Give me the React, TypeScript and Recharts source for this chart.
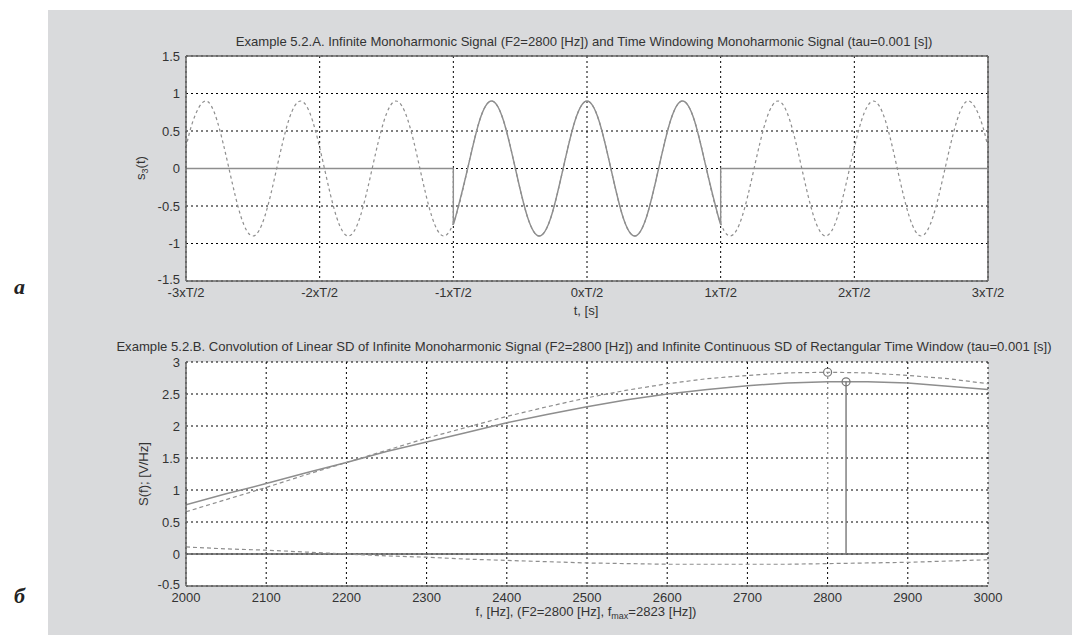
import React from 'react';
import { ComposedChart, Line, XAxis, YAxis, CartesianGrid, ReferenceLine } from 'recharts';

// ---------- Panel A: time signals (t in ms, T = tau = 1 ms) ----------
const tMs = [
  -1.5, -1.4732, -1.4286, -1.3839, -1.3393, -1.2946, -1.25, -1.2054, -1.1607, -1.1161,
  -1.0714, -1.0268, -0.9821, -0.9375, -0.8929, -0.8482, -0.8036, -0.7589, -0.7143, -0.6696,
  -0.625, -0.5804, -0.5357, -0.4911, -0.4464, -0.4018, -0.3571, -0.3125, -0.2679, -0.2232,
  -0.1786, -0.1339, -0.0893, -0.0446, 0, 0.0446, 0.0893, 0.1339, 0.1786, 0.2232,
  0.2679, 0.3125, 0.3571, 0.4018, 0.4464, 0.4911, 0.5357, 0.5804, 0.625, 0.6696,
  0.7143, 0.7589, 0.8036, 0.8482, 0.8929, 0.9375, 0.9821, 1.0268, 1.0714, 1.1161,
  1.1607, 1.2054, 1.25, 1.2946, 1.3393, 1.3839, 1.4286, 1.4732, 1.5,
];
const sInfinite = [
  0.28, 0.64, 0.9, 0.64, 0, -0.64, -0.9, -0.64, 0, 0.64,
  0.9, 0.64, 0, -0.64, -0.9, -0.64, 0, 0.64, 0.9, 0.64,
  0, -0.64, -0.9, -0.64, 0, 0.64, 0.9, 0.64, 0, -0.64,
  -0.9, -0.64, 0, 0.64, 0.9, 0.64, 0, -0.64, -0.9, -0.64,
  0, 0.64, 0.9, 0.64, 0, -0.64, -0.9, -0.64, 0, 0.64,
  0.9, 0.64, 0, -0.64, -0.9, -0.64, 0, 0.64, 0.9, 0.64,
  0, -0.64, -0.9, -0.64, 0, 0.64, 0.9, 0.64, 0.28,
];
const tWindow = [
  -0.5, -0.4911, -0.4464, -0.4018, -0.3571, -0.3125, -0.2679, -0.2232, -0.1786, -0.1339,
  -0.0893, -0.0446, 0, 0.0446, 0.0893, 0.1339, 0.1786, 0.2232, 0.2679, 0.3125,
  0.3571, 0.4018, 0.4464, 0.4911, 0.5,
];
const sWindow = [
  -0.73, -0.64, 0, 0.64, 0.9, 0.64, 0, -0.64, -0.9, -0.64,
  0, 0.64, 0.9, 0.64, 0, -0.64, -0.9, -0.64, 0, 0.64,
  0.9, 0.64, 0, -0.64, -0.73,
];
const tZeroLeft = [-1.5, -0.5, -0.5];
const sZeroLeft = [0, 0, -0.73];
const tZeroRight = [0.5, 0.5, 1.5];
const sZeroRight = [-0.73, 0, 0];
const tTicks = [-1.5, -1, -0.5, 0, 0.5, 1, 1.5];
const tTickLabels = ['-3xT/2', '-2xT/2', '-1xT/2', '0xT/2', '1xT/2', '2xT/2', '3xT/2'];
const sTicks = [-1.5, -1, -0.5, 0, 0.5, 1, 1.5];
const sTickLabels = ['-1.5', '-1', '-0.5', '0', '0.5', '1', '1.5'];

// ---------- Panel B: spectra ----------
const fHz = [2000, 2050, 2100, 2150, 2200, 2250, 2300, 2350, 2400, 2450, 2500,
  2550, 2600, 2650, 2700, 2750, 2800, 2850, 2900, 2950, 3000];
const sdConvolution = [0.77, 0.94, 1.10, 1.27, 1.43, 1.60, 1.75, 1.90, 2.05, 2.18, 2.30,
  2.41, 2.50, 2.57, 2.63, 2.67, 2.69, 2.69, 2.67, 2.62, 2.57];
const sdPositive = [0.66, 0.85, 1.04, 1.24, 1.43, 1.62, 1.81, 1.98, 2.15, 2.30, 2.44,
  2.56, 2.66, 2.74, 2.79, 2.83, 2.84, 2.83, 2.79, 2.74, 2.66];
const sdNegative = [0.11, 0.08, 0.06, 0.03, 0.00, -0.03, -0.05, -0.08, -0.10, -0.12, -0.14,
  -0.15, -0.16, -0.16, -0.16, -0.16, -0.15, -0.14, -0.13, -0.11, -0.09];
const stemMaxF = [2823, 2823];
const stemMaxS = [0, 2.69];
const stemF2F = [2800, 2800];
const stemF2S = [0, 2.84];
const fTicks = [2000, 2100, 2200, 2300, 2400, 2500, 2600, 2700, 2800, 2900, 3000];
const fTickLabels = ['2000', '2100', '2200', '2300', '2400', '2500', '2600', '2700', '2800', '2900', '3000'];
const sdTicks = [-0.5, 0, 0.5, 1, 1.5, 2, 2.5, 3];
const sdTickLabels = ['-0.5', '0', '0.5', '1', '1.5', '2', '2.5', '3'];

const mk = (xs: number[], ys: number[]) => xs.map((x, i) => ({ x, y: ys[i] }));

const FONT = '"Liberation Sans", Arial, Helvetica, sans-serif';
const TXT = '#333';
const LINE = '#8e8e8e';
const AXIS = '#666';

const makeXTick = (ticks: number[], labels: string[]) => (p: any) => {
  const idx = ticks.indexOf(p.payload.value);
  return (
    <text x={p.x} y={p.y} dy={16} textAnchor="middle" fontSize={13} fill={TXT} fontFamily={FONT}>
      {labels[idx]}
    </text>
  );
};
const makeYTick = (ticks: number[], labels: string[]) => (p: any) => {
  const idx = ticks.indexOf(p.payload.value);
  return (
    <text x={p.x} y={p.y} dy={idx === 0 ? 2.5 : 4.5} textAnchor="end" fontSize={13} fill={TXT} fontFamily={FONT}>
      {labels[idx]}
    </text>
  );
};

const stemDot = (p: any) => {
  if (p.index === 1) {
    return <circle key={`sd-${p.cx}-${p.index}`} cx={p.cx} cy={p.cy} r={4} fill="none" stroke="#777" strokeWidth={1.2} />;
  }
  return <g key={`sd-${p.cx}-${p.index}`} />;
};

const label = (text: React.ReactNode, left: number, top: number, extra: React.CSSProperties = {}) => (
  <div
    style={{
      position: 'absolute', left, top, transform: 'translate(-50%, -50%)', whiteSpace: 'nowrap',
      fontFamily: FONT, fontSize: 13.1, color: TXT, lineHeight: '15px', ...extra,
    }}
  >
    {text}
  </div>
);

export default function App() {
  return (
    <div style={{ position: 'absolute', left: 0, top: 0, width: 1072, height: 635, background: '#fff', overflow: 'hidden' }}>
      <div style={{ position: 'absolute', left: 48, top: 10, width: 1024, height: 625, background: '#d9dadc' }} />
      <div style={{ position: 'absolute', left: 14, top: 274, fontFamily: '"Liberation Serif", serif', fontStyle: 'italic', fontWeight: 'bold', fontSize: 22, color: '#222' }}>а</div>
      <div style={{ position: 'absolute', left: 14, top: 583, fontFamily: '"Liberation Serif", serif', fontStyle: 'italic', fontWeight: 'bold', fontSize: 22, color: '#222' }}>б</div>

      {/* Panel A */}
      <div style={{ position: 'absolute', left: 0, top: 0 }}>
        <ComposedChart width={1072} height={320} margin={{ top: 56, right: 84, bottom: 9, left: 146 }}>
          <CartesianGrid stroke="#000" strokeDasharray="2 3" fill="#fff" fillOpacity={1} />
          <XAxis type="number" dataKey="x" domain={[-1.5, 1.5]} ticks={tTicks} allowDataOverflow
            height={30} tickSize={0} tickMargin={0} axisLine={{ stroke: AXIS, strokeWidth: 1.5 }}
            tick={makeXTick(tTicks, tTickLabels)} interval={0} />
          <YAxis type="number" dataKey="y" domain={[-1.5, 1.5]} ticks={sTicks} allowDataOverflow
            width={40} tickSize={0} tickMargin={6} axisLine={{ stroke: AXIS, strokeWidth: 1.5 }}
            tick={makeYTick(sTicks, sTickLabels)} interval={0} />
          <ReferenceLine y={1.5} stroke={AXIS} strokeWidth={1.5} />
          <ReferenceLine x={1.5} stroke={AXIS} strokeWidth={1.5} />
          <Line data={mk(tMs, sInfinite)} dataKey="y" type="natural" stroke={LINE} strokeWidth={1.2}
            strokeDasharray="3 3" dot={false} isAnimationActive={false} />
          <Line data={mk(tZeroLeft, sZeroLeft)} dataKey="y" type="linear" stroke={LINE} strokeWidth={1.4}
            dot={false} isAnimationActive={false} />
          <Line data={mk(tZeroRight, sZeroRight)} dataKey="y" type="linear" stroke={LINE} strokeWidth={1.4}
            dot={false} isAnimationActive={false} />
          <Line data={mk(tWindow, sWindow)} dataKey="y" type="natural" stroke={LINE} strokeWidth={1.4}
            dot={false} isAnimationActive={false} />
        </ComposedChart>
      </div>

      {/* Panel B */}
      <div style={{ position: 'absolute', left: 0, top: 320 }}>
        <ComposedChart width={1072} height={315} margin={{ top: 42, right: 84, bottom: 19, left: 146 }}>
          <CartesianGrid stroke="#000" strokeDasharray="2 3" fill="#fff" fillOpacity={1} />
          <XAxis type="number" dataKey="x" domain={[2000, 3000]} ticks={fTicks} allowDataOverflow
            height={30} tickSize={0} tickMargin={0} axisLine={{ stroke: AXIS, strokeWidth: 1.5 }}
            tick={makeXTick(fTicks, fTickLabels)} interval={0} />
          <YAxis type="number" dataKey="y" domain={[-0.5, 3]} ticks={sdTicks} allowDataOverflow
            width={40} tickSize={0} tickMargin={6} axisLine={{ stroke: AXIS, strokeWidth: 1.5 }}
            tick={makeYTick(sdTicks, sdTickLabels)} interval={0} />
          <ReferenceLine y={0} stroke="#5a5a5a" strokeWidth={1.3} />
          <Line data={mk(fHz, sdPositive)} dataKey="y" type="linear" stroke={LINE} strokeWidth={1.2}
            strokeDasharray="4 3" dot={false} isAnimationActive={false} />
          <Line data={mk(fHz, sdNegative)} dataKey="y" type="linear" stroke={LINE} strokeWidth={1.2}
            strokeDasharray="4 3" dot={false} isAnimationActive={false} />
          <Line data={mk(fHz, sdConvolution)} dataKey="y" type="linear" stroke={LINE} strokeWidth={1.5}
            dot={false} isAnimationActive={false} />
          <Line data={mk(stemF2F, stemF2S)} dataKey="y" type="linear" stroke={LINE} strokeWidth={1.2}
            strokeDasharray="2 3" dot={stemDot} isAnimationActive={false} />
          <Line data={mk(stemMaxF, stemMaxS)} dataKey="y" type="linear" stroke="#777" strokeWidth={1.4}
            dot={stemDot} isAnimationActive={false} />
        </ComposedChart>
      </div>

      {label('Example 5.2.A. Infinite Monoharmonic Signal (F2=2800 [Hz]) and Time Windowing Monoharmonic Signal (tau=0.001 [s])', 584, 41)}
      {label('t, [s]', 586, 310)}
      {label(<span>s<sub style={{ fontSize: 9, verticalAlign: 'sub' }}>3</sub>(t)</span>, 143, 168, { transform: 'translate(-50%, -50%) rotate(-90deg)' })}
      {label('Example 5.2.B. Convolution of Linear SD of Infinite Monoharmonic Signal (F2=2800 [Hz]) and Infinite Continuous SD of Rectangular Time Window (tau=0.001 [s])', 584, 346)}
      {label(<span>f, [Hz], (F2=2800 [Hz], f<sub style={{ fontSize: 9, verticalAlign: 'sub' }}>max</sub>=2823 [Hz])</span>, 586, 614)}
      {label('S(f); [V/Hz]', 143, 474, { transform: 'translate(-50%, -50%) rotate(-90deg)' })}
    </div>
  );
}
